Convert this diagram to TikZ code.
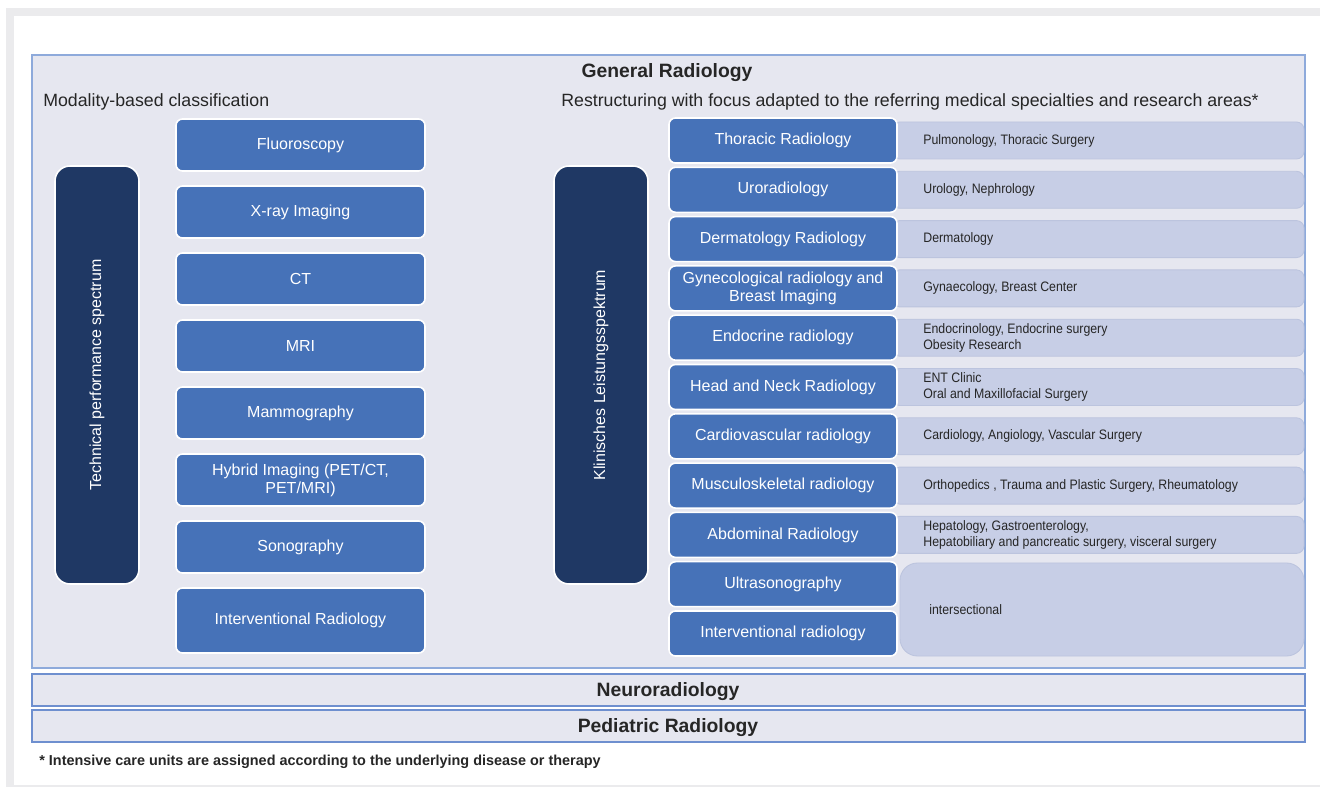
\documentclass[tikz,border=0pt]{standalone}
\usepackage{fontspec}
\setmainfont{Liberation Sans}
\newfontfamily\narrowfont[FakeStretch=0.9]{Liberation Sans}
\definecolor{pagegray}{HTML}{EBEBED}
\definecolor{framefill}{HTML}{E6E7F0}
\definecolor{frameline}{HTML}{8EAADB}
\definecolor{bandline}{HTML}{6E8FCF}
\definecolor{midblue}{HTML}{4672B8}
\definecolor{navy}{HTML}{1F3864}
\definecolor{lightbox}{HTML}{C7CEE6}
\definecolor{lightshadow}{HTML}{BCC4DE}
\definecolor{ink}{HTML}{262626}
\tikzset{
  bluebox/.style={draw=white, line width=0.9pt, fill=midblue, rounded corners=0.13cm,
    text=white, font=\fontsize{9.1}{10.4}\selectfont, align=center, inner sep=0pt},
  navybox/.style={draw=white, line width=0.9pt, fill=navy, rounded corners=0.3cm,
    text=white, font=\fontsize{9.1}{10.4}\selectfont, inner sep=0pt},
  lbox/.style={fill=lightbox, draw=lightshadow, line width=0.5pt, rounded corners=0.15cm, inner sep=0pt},
  desc/.style={anchor=west, text=ink, font=\narrowfont\fontsize{7.8}{9.2}\selectfont, align=left, inner sep=0pt},
  heading/.style={text=ink, font=\bfseries\fontsize{11}{13}\selectfont, inner sep=0pt},
  subhead/.style={anchor=west, text=ink, font=\fontsize{10.1}{12}\selectfont, inner sep=0pt},
  band/.style={fill=framefill, draw=bandline, line width=0.8pt, inner sep=0pt}
}
\newcommand\modrow[4]{% name, top, height, text
  \node[bluebox, minimum width={249*0.02cm}, minimum height={#3*0.02cm}] (#1) at (300.5,{#2+#3/2}) {#4};}
\newcommand\specrow[4]{% index, name, label, description
  \pgfmathsetmacro\rtop{118+49.3*#1}
  \node[lbox, minimum width={412*0.02cm}, minimum height={37*0.02cm}] (#2bg) at (1098,{\rtop+22.5}) {};
  \node[bluebox, minimum width={228*0.02cm}, minimum height={45*0.02cm}] (#2) at (783,{\rtop+22.5}) {#3};
  \node[desc] (#2txt) at (923,{\rtop+22.5}) {#4};}
\begin{document}
\begin{tikzpicture}[x=0.02cm, y=-0.02cm]
\useasboundingbox (0,0) rectangle (1320,787);
\fill[pagegray] (6,8) rectangle (1330,800);
\fill[white] (14,16) rectangle (1320,785);
% main frame
\node[fill=framefill, draw=frameline, line width=0.7pt, minimum width={1273*0.02cm}, minimum height={613*0.02cm}, inner sep=0pt] (frame) at (668.5,361.5) {};
\node[heading] (title) at (667,73) {General Radiology};
\node[subhead] (modhead) at (43,102) {Modality-based classification};
\node[subhead] (resthead) at (561,102) {Restructuring with focus adapted to the referring medical specialties and research areas*};
% left column
\node[navybox, rotate=90, minimum width={418*0.02cm}, minimum height={84*0.02cm}] (tech) at (97,375) {Technical performance spectrum};
\modrow{fluoro}{119}{52}{Fluoroscopy}
\modrow{xray}{186}{52}{X-ray Imaging}
\modrow{ct}{253}{52}{CT}
\modrow{mri}{320}{52}{MRI}
\modrow{mammo}{387}{52}{Mammography}
\modrow{hybrid}{454}{52}{Hybrid Imaging (PET/CT,\\PET/MRI)}
\modrow{sono}{521}{52}{Sonography}
\modrow{interv}{588}{65}{Interventional Radiology}
% right column
\node[navybox, rotate=90, minimum width={418*0.02cm}, minimum height={94*0.02cm}] (klin) at (601,375) {Klinisches Leistungsspektrum};
\specrow{0}{thor}{Thoracic Radiology}{Pulmonology, Thoracic Surgery}
\specrow{1}{uro}{Uroradiology}{Urology, Nephrology}
\specrow{2}{derm}{Dermatology Radiology}{Dermatology}
\specrow{3}{gyn}{Gynecological radiology and\\Breast Imaging}{Gynaecology, Breast Center}
\specrow{4}{endo}{Endocrine radiology}{Endocrinology, Endocrine surgery\\Obesity Research}
\specrow{5}{head}{Head and Neck Radiology}{ENT Clinic\\Oral and Maxillofacial Surgery}
\specrow{6}{cardio}{Cardiovascular radiology}{Cardiology, Angiology, Vascular Surgery}
\specrow{7}{msk}{Musculoskeletal radiology}{Orthopedics , Trauma and Plastic Surgery, Rheumatology}
\specrow{8}{abd}{Abdominal Radiology}{Hepatology, Gastroenterology,\\Hepatobiliary and pancreatic surgery, visceral surgery}
\node[lbox, rounded corners=0.35cm, minimum width={404*0.02cm}, minimum height={93*0.02cm}] (interbg) at (1102,609.5) {};
\node[bluebox, minimum width={228*0.02cm}, minimum height={45*0.02cm}] (ultra) at (783,584.2) {Ultrasonography};
\node[bluebox, minimum width={228*0.02cm}, minimum height={45*0.02cm}] (ir) at (783,633.5) {Interventional radiology};
\node[desc] (intertxt) at (929,610) {intersectional};
% bands
\node[band, minimum width={1273*0.02cm}, minimum height={32*0.02cm}] (neuro) at (668.5,690) {};
\node[heading] (neurotxt) at (668,692) {Neuroradiology};
\node[band, minimum width={1273*0.02cm}, minimum height={32*0.02cm}] (pedi) at (668.5,726) {};
\node[heading] (peditxt) at (668,728) {Pediatric Radiology};
\node[anchor=west, text=ink, font=\bfseries\fontsize{8.2}{10}\selectfont, inner sep=0pt] (foot) at (39,762) {* Intensive care units are assigned according to the underlying disease or therapy};
\end{tikzpicture}
\end{document}
